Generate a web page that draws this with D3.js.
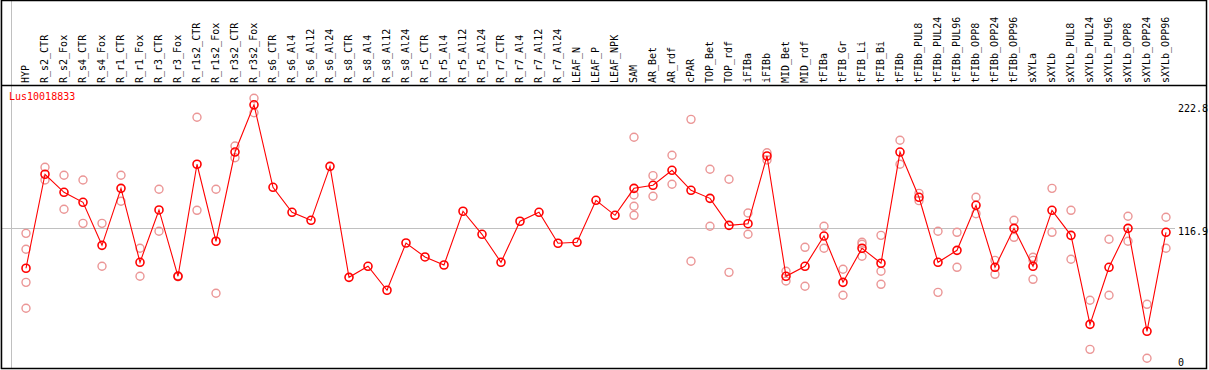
<!DOCTYPE html>
<html>
<head>
<meta charset="utf-8">
<script src="https://cdn.jsdelivr.net/npm/d3@7"></script>
<style>
  body { margin: 0; background: #fff; }
  svg text { font-family: "DejaVu Sans Mono", monospace; font-size: 10px; }
</style>
</head>
<body>
<svg id="chart" width="1209" height="370"></svg>
<script>
// gene shown in the plot
const geneId = 'Lus10018833'

const categories = ['HYP','R_s2_CTR','R_s2_Fox','R_s4_CTR','R_s4_Fox','R_r1_CTR','R_r1_Fox','R_r3_CTR','R_r3_Fox',
  'R_r1s2_CTR','R_r1s2_Fox','R_r3s2_CTR','R_r3s2_Fox','R_s6_CTR','R_s6_Al4','R_s6_Al12','R_s6_Al24',
  'R_s8_CTR','R_s8_Al4','R_s8_Al12','R_s8_Al24','R_r5_CTR','R_r5_Al4','R_r5_Al12','R_r5_Al24',
  'R_r7_CTR','R_r7_Al4','R_r7_Al12','R_r7_Al24','LEAF_N','LEAF_P','LEAF_NPK','SAM','AR_Bet','AR_rdf',
  'cPAR','TOP_Bet','TOP_rdf','iFIBa','iFIBb','MID_Bet','MID_rdf','tFIBa','tFIB_Gr','tFIB_Li','tFIB_Bi',
  'tFIBb','tFIBb_PUL8','tFIBb_PUL24','tFIBb_PUL96','tFIBb_OPP8','tFIBb_OPP24','tFIBb_OPP96',
  'sXYLa','sXYLb','sXYLb_PUL8','sXYLb_PUL24','sXYLb_PUL96','sXYLb_OPP8','sXYLb_OPP24','sXYLb_OPP96']

// number of samples in each block between the grey separators
const groupSizes = [1, 28, 3, 3, 1, 2, 1, 1, 2, 1, 1, 1, 1, 7, 1, 7]

// mean expression per sample
const means = [82.3, 163.1, 147.6, 139.0, 102.0, 151.0, 87.4, 132.4, 75.4, 171.7, 105.5, 182.2, 222.8,
  151.9, 130.4, 123.5, 169.9, 74.5, 84.0, 63.4, 104.0, 92.0, 85.1, 131.3, 111.5, 87.4, 122.7, 130.4, 103.8,
  104.6, 140.7, 127.8, 151.0, 153.6, 166.5, 149.3, 142.4, 119.2, 120.6, 178.8, 75.4, 84.0, 110.0, 70.2,
  99.5, 86.6, 182.2, 143.3, 87.4, 97.7, 136.4, 83.1, 116.6, 84.0, 132.1, 110.6, 34.1, 83.1, 116.6, 28.1, 113.2]

// replicate values (empty where only the mean is shown)
const replicates = [
  [112.3, 98.6, 70.2, 47.9], [169.1, 158.2], [162.2, 133.0], [158.2, 120.9], [120.9, 84.0],
  [162.2, 139.9], [99.5, 75.4], [150.2, 114.1], [75.0, 75.8], [212.1, 132.1], [150.2, 60.8],
  [187.4, 177.3], [228.4, 216.0],
  [], [], [], [], [], [], [], [], [], [], [], [], [], [], [], [], [], [], [],
  [194.9, 145.3, 135.6, 127.8], [161.9, 144.2], [179.4, 154.5], [210.3, 88.3], [167.4, 118.4],
  [158.8, 78.8], [129.8, 111.5], [181.6, 175.4], [79.7, 71.3], [100.3, 66.8], [118.4, 99.5],
  [81.4, 59.1], [104.6, 102.9, 92.6], [110.6, 79.7, 68.5], [192.3, 171.7], [146.7, 140.4],
  [114.1, 61.6], [113.2, 83.1], [143.3, 129.2], [89.1, 77.1], [123.5, 108.9], [91.7, 89.1, 72.8],
  [151.0, 113.2], [132.1, 90.0], [54.8, 12.6], [107.2, 59.1], [127.0, 105.5], [51.3, 4.9], [126.1, 99.5]
]

const yTicks = [0, 116.9, 222.8]

const svg = d3.select('#chart')
const W = 1209, H = 370
const headerBottom = 85

const x = d3.scaleLinear().domain([0, categories.length]).range([11.5, 1170.5])
const y = d3.scaleLinear().domain([0, d3.max(means)]).range([364, 104.8])
const px = i => x(i) + 14.5

// group separators
const bounds = [0].concat(d3.cumsum(groupSizes))
svg.append('g')
  .selectAll('line')
  .data(bounds)
  .join('line')
  .attr('x1', d => x(d)).attr('x2', d => x(d))
  .attr('y1', 0).attr('y2', H - 1)
  .attr('stroke', '#c0c0c0')

// horizontal grid at the middle tick
svg.append('line')
  .attr('x1', 1).attr('x2', 1175)
  .attr('y1', Math.round(y(yTicks[1])) + 0.5).attr('y2', Math.round(y(yTicks[1])) + 0.5)
  .attr('stroke', '#c0c0c0')

// sample labels in the header
svg.append('g')
  .selectAll('text')
  .data(categories)
  .join('text')
  .attr('transform', (d, i) => `translate(${x(i) + 17.5},83) rotate(-90)`)
  .attr('fill', '#000')
  .text(d => d)

// y labels on the right
svg.append('g')
  .selectAll('text')
  .data(yTicks)
  .join('text')
  .attr('x', 1178)
  .attr('y', d => Math.min(y(d) + 7, 366))
  .attr('fill', '#000')
  .text(d => d)

// replicates
const repPoints = []
replicates.forEach((reps, i) => reps.forEach(v => repPoints.push({i, v})))
svg.append('g')
  .selectAll('circle')
  .data(repPoints)
  .join('circle')
  .attr('cx', d => px(d.i))
  .attr('cy', d => y(d.v))
  .attr('r', 4)
  .attr('fill', 'none')
  .attr('stroke', '#eb9696')
  .attr('stroke-width', 1.4)

// mean line
const line = d3.line().x((d, i) => px(i)).y(d => y(d))
svg.append('path')
  .datum(means)
  .attr('d', line)
  .attr('fill', 'none')
  .attr('stroke', '#ff0000')
  .attr('stroke-width', 1.1)

svg.append('g')
  .selectAll('circle')
  .data(means)
  .join('circle')
  .attr('cx', (d, i) => px(i))
  .attr('cy', d => y(d))
  .attr('r', 4)
  .attr('fill', 'none')
  .attr('stroke', '#ff0000')
  .attr('stroke-width', 1.6)

// gene id
svg.append('text')
  .attr('x', 9).attr('y', 100)
  .attr('fill', '#ff0000')
  .text(geneId)

// frame and header separator
svg.append('rect')
  .attr('x', 1.5).attr('y', 0.5)
  .attr('width', 1205).attr('height', 368)
  .attr('fill', 'none')
  .attr('stroke', '#000')
  .attr('stroke-width', 1.5)
svg.append('line')
  .attr('x1', 1).attr('x2', 1207)
  .attr('y1', headerBottom + 0.5).attr('y2', headerBottom + 0.5)
  .attr('stroke', '#000')
  .attr('stroke-width', 1.5)
</script>
</body>
</html>
